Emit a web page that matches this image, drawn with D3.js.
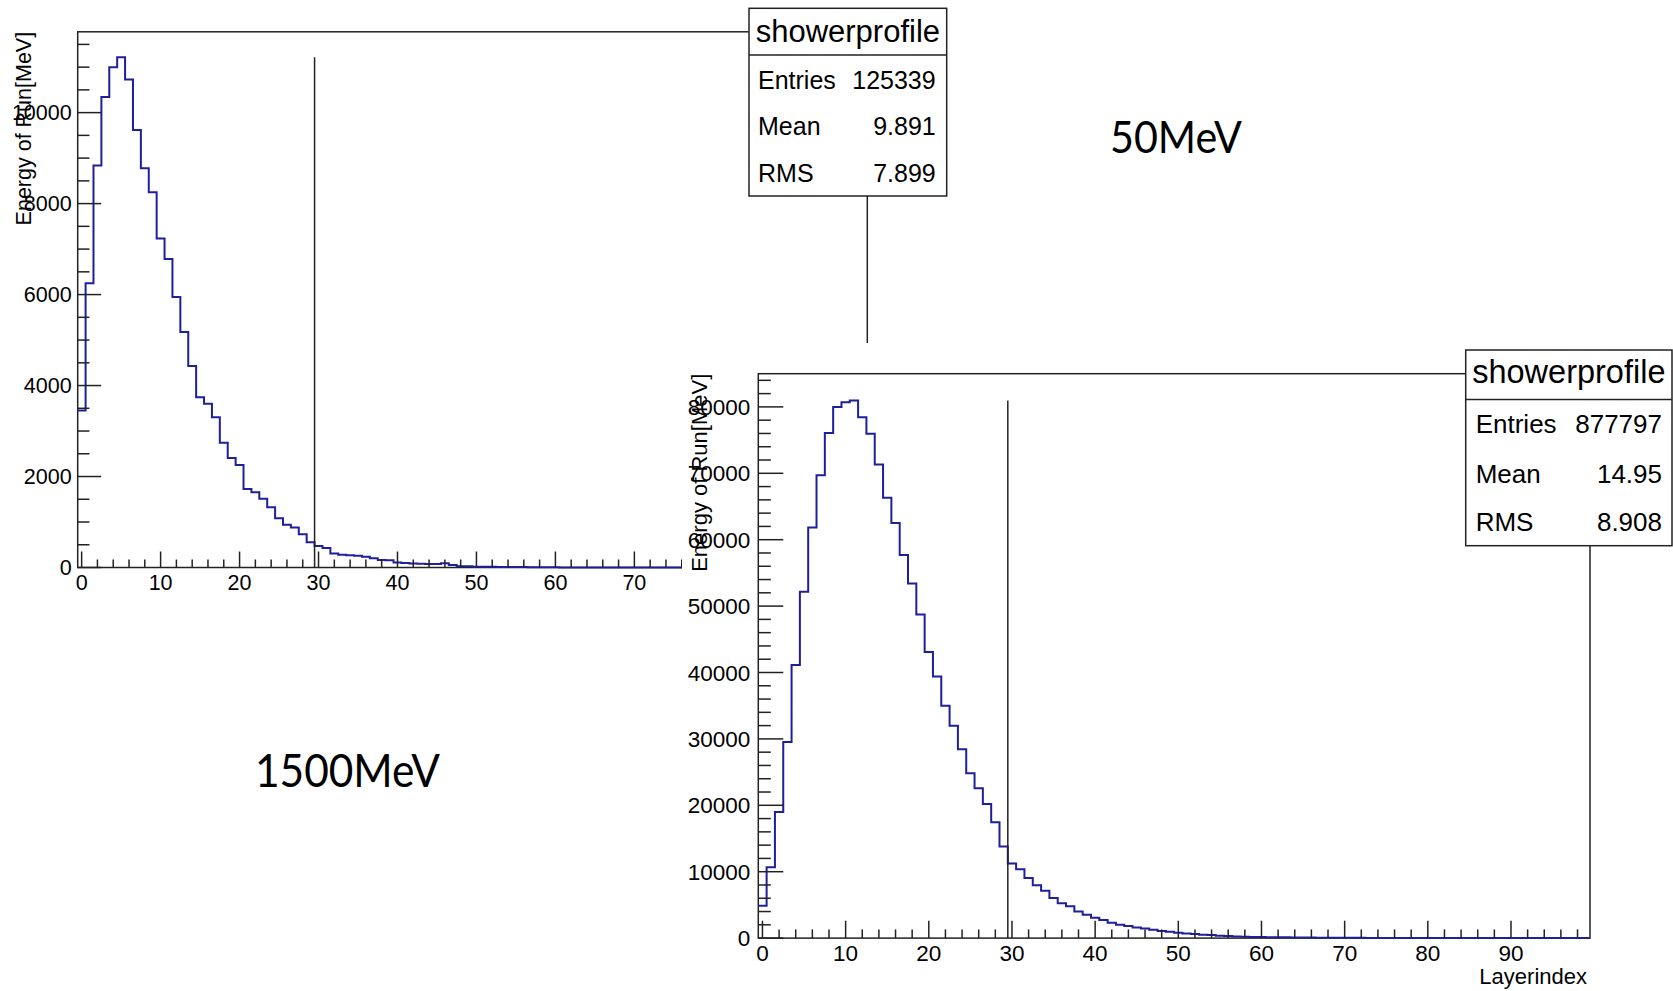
<!DOCTYPE html>
<html>
<head>
<meta charset="utf-8">
<script src="https://cdn.jsdelivr.net/npm/d3@7"></script>
<style>
  html, body { margin: 0; padding: 0; background: #fff; }
  svg { display: block; }
</style>
</head>
<body>
<svg id="chart" width="1673" height="991"></svg>
<script>
// ---------------- DATA ----------------
const layerIndex = d3.range(0, 100);            // bin centres 0..99 (bins are [-0.5+i, 0.5+i])

// left panel (showerprofile, 125339 entries)
const energyLeft = [
  3451, 6251, 8839, 10345, 10996, 11216, 10729, 9616, 8776, 8251,
  7231, 6784, 5945, 5176, 4431, 3741, 3600, 3302, 2745, 2408,
  2251, 1725, 1655, 1514, 1325, 1082, 941, 878, 729, 557,
  471, 431, 306, 282, 267, 259, 235, 204, 165, 157,
  110, 100, 88, 80, 75, 78, 95, 55, 30, 25,
  18, 15, 14, 12, 10, 10, 12, 8, 5, 4,
  3, 2, 2, 1, 1, 1, 0, 0, 0, 0,
  0, 0, 0, 0, 0, 0, 0, 0, 0, 0,
  0, 0, 0, 0, 0, 0, 0, 0, 0, 0,
  0, 0, 0, 0, 0, 0, 0, 0, 0, 0
];

// right panel (showerprofile, 877797 entries)
const energyRight = [
  4881, 10655, 18988, 29524, 41131, 52143, 61845, 69702, 76071, 80000,
  80714, 80952, 78452, 75952, 71310, 66310, 62500, 57679, 53393, 48750,
  43095, 39405, 35000, 31964, 28452, 24821, 22560, 20179, 17440, 13810,
  11250, 10357, 9048, 7976, 7143, 6040, 5250, 4800, 4000, 3500,
  3050, 2711, 2309, 2008, 1807, 1606, 1456, 1255, 1054, 954,
  803, 703, 602, 502, 452, 351, 301, 251, 200, 170,
  150, 140, 120, 110, 100, 90, 80, 70, 60, 50,
  45, 40, 35, 30, 25, 20, 18, 15, 12, 10,
  8, 6, 5, 4, 3, 3, 2, 2, 1, 1,
  1, 1, 0, 0, 0, 0, 0, 0, 0, 0
];

const cutLayer = 29.5;                 // vertical marker line position

const xTickValues = [0, 10, 20, 30, 40, 50, 60, 70, 80, 90];
const yTicksLeft = [0, 2000, 4000, 6000, 8000, 10000];
const yTicksRight = [0, 10000, 20000, 30000, 40000, 50000, 60000, 70000, 80000];

const statsLeft = { title: "showerprofile", rows: [["Entries", "125339"], ["Mean", "9.891"], ["RMS", "7.899"]] };
const statsRight = { title: "showerprofile", rows: [["Entries", "877797"], ["Mean", "14.95"], ["RMS", "8.908"]] };

const yTitle = "Energy of Run[MeV]";
const xTitle = "Layerindex";
const labelA = "50MeV";
const labelB = "1500MeV";

// ---------------- DRAW ----------------
const svg = d3.select("#chart");
const FONT = "'Liberation Sans', Arial, Helvetica, sans-serif";
const LINE = "#1f1f9c";
const FRAME = "#222";

function drawPanel(g, cfg) {
  const { x0, x1, yTop, yBot, data, yTicks, yMinorStep, yMax, tickFont,
          yTickLen, xTickLen, yLabelGap, xLabelBase, titleX, titleFont } = cfg;
  const x = d3.scaleLinear().domain([-0.5, 99.5]).range([x0, x1]);
  const y = d3.scaleLinear().domain([0, yMax]).range([yBot, yTop]);

  // frame
  g.append("rect").attr("x", x0).attr("y", yTop).attr("width", x1 - x0).attr("height", yBot - yTop)
    .attr("fill", "#fff").attr("stroke", FRAME).attr("stroke-width", 1.5);

  // histogram outline
  let p = d3.path();
  p.moveTo(x(-0.5), y(data[0]));
  data.forEach((v, i) => {
    if (i > 0) p.lineTo(x(layerIndex[i] - 0.5), y(v));
    p.lineTo(x(layerIndex[i] + 0.5), y(v));
  });
  p.lineTo(x(99.5), y(0));
  g.append("path").attr("d", p.toString()).attr("fill", "none")
    .attr("stroke", LINE).attr("stroke-width", 2);

  // vertical marker line
  g.append("line").attr("x1", x(cutLayer)).attr("x2", x(cutLayer))
    .attr("y1", y(0)).attr("y2", y(d3.max(data)))
    .attr("stroke", FRAME).attr("stroke-width", 1.5);

  // y ticks (inside frame)
  const yMinor = d3.range(0, yMax, yMinorStep);
  g.selectAll(null).data(yMinor).join("line")
    .attr("x1", x0).attr("x2", d => x0 + (yTicks.includes(d) ? yTickLen : yTickLen / 2))
    .attr("y1", d => y(d)).attr("y2", d => y(d))
    .attr("stroke", FRAME).attr("stroke-width", 1.5);
  g.selectAll(null).data(yTicks).join("text")
    .attr("x", x0 - yLabelGap).attr("y", d => y(d)).attr("dy", "0.36em")
    .attr("text-anchor", "end").attr("font-family", FONT).attr("font-size", tickFont)
    .attr("fill", "#000").text(d => d);

  // x ticks
  const xMinor = d3.range(0, 99.5, 2);
  g.selectAll(null).data(xMinor).join("line")
    .attr("x1", d => x(d)).attr("x2", d => x(d))
    .attr("y1", yBot).attr("y2", d => yBot - (d % 10 === 0 ? xTickLen : xTickLen / 2))
    .attr("stroke", FRAME).attr("stroke-width", 1.5);
  g.selectAll(null).data(xTickValues).join("text")
    .attr("x", d => x(d)).attr("y", xLabelBase)
    .attr("text-anchor", "middle").attr("font-family", FONT).attr("font-size", tickFont)
    .attr("fill", "#000").text(d => d);

  // y title
  g.append("text").attr("transform", `translate(${titleX},${yTop}) rotate(-90)`)
    .attr("text-anchor", "end").attr("font-family", FONT).attr("font-size", titleFont)
    .attr("fill", "#000").text(yTitle);

  return { x, y };
}

function drawStats(g, s, box) {
  const { left, right, top, divider, bottom, titleBase, rowBase, titleFont, rowFont, padL, padR } = box;
  g.append("rect").attr("x", left).attr("y", top).attr("width", right - left).attr("height", bottom - top)
    .attr("fill", "#fff").attr("stroke", FRAME).attr("stroke-width", 1.5);
  g.append("line").attr("x1", left).attr("x2", right).attr("y1", divider).attr("y2", divider)
    .attr("stroke", FRAME).attr("stroke-width", 1.5);
  g.append("text").attr("x", (left + right) / 2).attr("y", titleBase).attr("text-anchor", "middle")
    .attr("font-family", FONT).attr("font-size", titleFont).text(s.title);
  s.rows.forEach((r, i) => {
    g.append("text").attr("x", left + padL).attr("y", rowBase[i])
      .attr("font-family", FONT).attr("font-size", rowFont).text(r[0]);
    g.append("text").attr("x", right - padR).attr("y", rowBase[i]).attr("text-anchor", "end")
      .attr("font-family", FONT).attr("font-size", rowFont).text(r[1]);
  });
}

// ----- left pad -----
const gL = svg.append("g");
drawPanel(gL, {
  x0: 77.7, x1: 867.3, yTop: 31.8, yBot: 567.5, data: energyLeft,
  yTicks: yTicksLeft, yMinorStep: 500, yMax: d3.max(energyLeft) * 1.05,
  tickFont: 21.5, yTickLen: 23.5, xTickLen: 16, yLabelGap: 6, xLabelBase: 590,
  titleX: 31, titleFont: 21.5
});
drawStats(gL, statsLeft, {
  left: 749, right: 946.7, top: 8.3, divider: 55, bottom: 196,
  titleBase: 42, rowBase: [88.5, 135, 181.7], titleFont: 31, rowFont: 25, padL: 9, padR: 11
});
gL.append("text").attr("x", 1110).attr("y", 153.3).attr("font-family", "Lato, sans-serif")
  .attr("font-size", 44).attr("textLength", 132).attr("lengthAdjust", "spacingAndGlyphs")
  .attr("fill", "#000").text(labelA);
gL.append("text").attr("x", 255).attr("y", 786.7).attr("font-family", "Lato, sans-serif")
  .attr("font-size", 47).attr("textLength", 185).attr("lengthAdjust", "spacingAndGlyphs")
  .attr("fill", "#000").text(labelB);

// ----- right pad (drawn on top) -----
const gR = svg.append("g");
gR.append("rect").attr("x", 682).attr("y", 343).attr("width", 1673 - 682).attr("height", 991 - 343)
  .attr("fill", "#fff");
drawPanel(gR, {
  x0: 758.3, x1: 1590, yTop: 373.7, yBot: 938.1, data: energyRight,
  yTicks: yTicksRight, yMinorStep: 2000, yMax: d3.max(energyRight) * 1.05,
  tickFont: 22.5, yTickLen: 25, xTickLen: 17.4, yLabelGap: 8, xLabelBase: 961,
  titleX: 706.5, titleFont: 22
});
gR.append("text").attr("x", 1587).attr("y", 984).attr("text-anchor", "end")
  .attr("font-family", FONT).attr("font-size", 22).text(xTitle);
drawStats(gR, statsRight, {
  left: 1465.7, right: 1672, top: 350, divider: 399.5, bottom: 545.7,
  titleBase: 383, rowBase: [433, 482.5, 531], titleFont: 32.5, rowFont: 26, padL: 10, padR: 10
});
</script>
</body>
</html>
